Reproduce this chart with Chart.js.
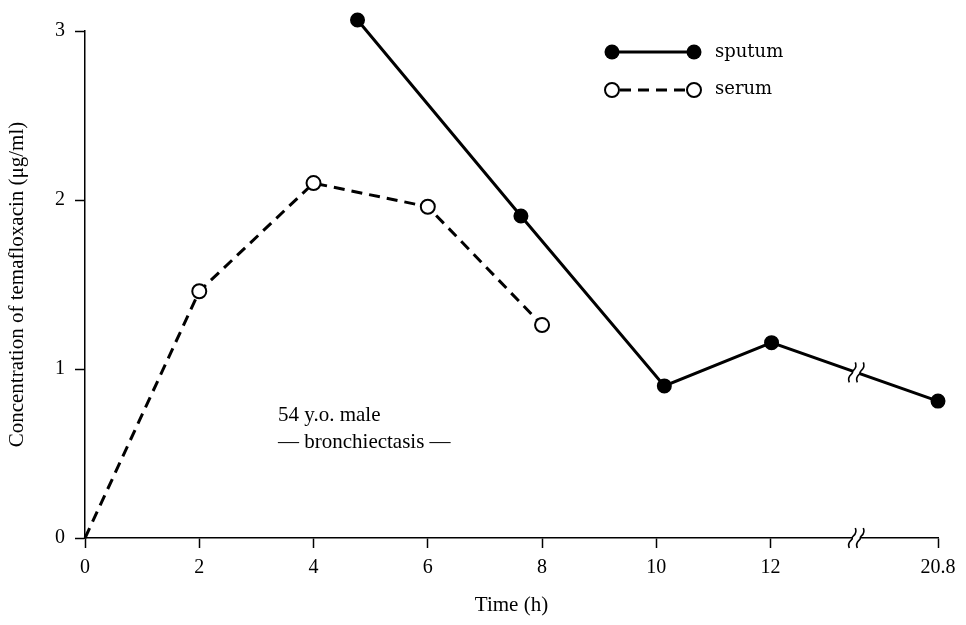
<!DOCTYPE html>
<html>
<head>
<meta charset="utf-8">
<script src="https://cdn.jsdelivr.net/npm/chart.js@4"></script>
<style>
  html, body { margin: 0; padding: 0; background: #fff; }
  canvas { display: block; }
</style>
</head>
<body>
<canvas id="grafico" width="966" height="625"></canvas>
<script>
(function () {
  "use strict";

  // valores
  var serumTime = [0, 2, 4, 6, 8];
  var serumConc = [0, 1.46, 2.10, 1.96, 1.26];
  var sputumTime = [4.77, 7.63, 10.14, 12.05, 20.8];
  var sputumConc = [3.065, 1.905, 0.90, 1.156, 0.81];
  var timeTicks = [0, 2, 4, 6, 8, 10, 12, 20.8];
  var concTicks = [0, 1, 2, 3];

  // eixo quebrado: depois de 12 h a escala é comprimida
  var QUEBRA = 12;
  var POS_FIM = 14.93;
  var T_FIM = 20.8;
  var POS_MARCA = 13.5;

  function posEixo(t) {
    return t <= QUEBRA ? t : QUEBRA + (t - QUEBRA) * (POS_FIM - QUEBRA) / (T_FIM - QUEBRA);
  }

  function pontos(xs, ys) {
    return xs.map(function (t, i) { return { x: posEixo(t), y: ys[i] }; });
  }

  var SERIF = "'Liberation Serif', 'DejaVu Serif', serif";
  var PRETO = "#000";
  var TRACO = [11, 7];

  function desenhaS(ctx, x, y, h) {
    ctx.beginPath();
    ctx.moveTo(x - 3, y + h);
    ctx.bezierCurveTo(x - 6, y + h * 0.3, x + 1, y + h * 0.2, x, y);
    ctx.bezierCurveTo(x - 1, y - h * 0.2, x + 6, y - h * 0.3, x + 3, y - h);
    ctx.stroke();
  }

  var extras = {
    id: "extras",
    afterDraw: function (chart) {
      var ctx = chart.ctx;
      var xs = chart.scales.x, ys = chart.scales.y;
      ctx.save();

      // quebra no eixo x
      var bx = xs.getPixelForValue(POS_MARCA);
      var by = ys.getPixelForValue(0);
      ctx.fillStyle = "#fff";
      ctx.fillRect(bx - 4, by - 3, 8, 6);
      ctx.strokeStyle = PRETO;
      ctx.lineWidth = 1.6;
      desenhaS(ctx, bx - 4, by, 10);
      desenhaS(ctx, bx + 4, by, 10);

      // quebra na linha do escarro
      var a = posEixo(sputumTime[3]), b = posEixo(sputumTime[4]);
      var f = (POS_MARCA - a) / (b - a);
      var yv = sputumConc[3] + (sputumConc[4] - sputumConc[3]) * f;
      var ly = ys.getPixelForValue(yv);
      ctx.fillStyle = "#fff";
      ctx.fillRect(bx - 3, ly - 5, 6, 10);
      desenhaS(ctx, bx - 4, ly, 10);
      desenhaS(ctx, bx + 4, ly, 10);

      // legenda
      var lx1 = 612, lx2 = 694, tx = 715;
      ctx.lineWidth = 3;
      ctx.strokeStyle = PRETO;
      ctx.beginPath(); ctx.moveTo(lx1, 52); ctx.lineTo(lx2, 52); ctx.stroke();
      ctx.setLineDash(TRACO);
      ctx.beginPath(); ctx.moveTo(lx1 + 8, 90); ctx.lineTo(lx2 - 8, 90); ctx.stroke();
      ctx.setLineDash([]);
      [lx1, lx2].forEach(function (x) {
        ctx.fillStyle = PRETO;
        ctx.beginPath(); ctx.arc(x, 52, 7.5, 0, Math.PI * 2); ctx.fill();
        ctx.fillStyle = "#fff";
        ctx.lineWidth = 2;
        ctx.beginPath(); ctx.arc(x, 90, 7, 0, Math.PI * 2); ctx.fill(); ctx.stroke();
      });
      ctx.fillStyle = PRETO;
      ctx.font = "18px 'DejaVu Serif', serif";
      ctx.textBaseline = "middle";
      ctx.textAlign = "left";
      ctx.fillText("sputum", tx, 52);
      ctx.fillText("serum", tx, 89);

      // anotação do paciente
      ctx.font = "21px " + SERIF;
      ctx.fillText("54 y.o. male", 278, 415);
      ctx.fillText("\u2014 bronchiectasis \u2014", 278, 442);

      ctx.restore();
    },
  };

  new Chart(document.getElementById("grafico"), {
    type: "line",
    data: {
      datasets: [
        {
          label: "sputum",
          data: pontos(sputumTime, sputumConc),
          borderColor: PRETO,
          backgroundColor: PRETO,
          borderWidth: 3,
          // raio pequeno + borda grossa: o ponto acima do topo do eixo continua visível
          pointRadius: 3,
          pointBorderWidth: 9,
          pointBorderColor: PRETO,
          pointBackgroundColor: PRETO,
          tension: 0,
          clip: false,
        },
        {
          label: "serum",
          data: pontos(serumTime, serumConc),
          borderColor: PRETO,
          borderWidth: 3,
          borderDash: TRACO,
          pointRadius: function (c) { return c.dataIndex === 0 ? 0 : 7; },
          pointBorderWidth: 2,
          pointBackgroundColor: "#fff",
          pointBorderColor: PRETO,
          tension: 0,
          clip: false,
        },
      ],
    },
    options: {
      responsive: false,
      animation: false,
      layout: { padding: { top: 31, right: 28, bottom: 0, left: 0 } },
      plugins: { legend: { display: false }, tooltip: { enabled: false } },
      scales: {
        x: {
          type: "linear",
          min: 0,
          max: POS_FIM,
          afterBuildTicks: function (s) {
            s.ticks = timeTicks.map(function (t) { return { value: posEixo(t) }; });
          },
          afterFit: function (s) { s.height = 87; },
          grid: { drawOnChartArea: false, tickLength: 10, tickColor: PRETO, tickWidth: 1.5 },
          border: { color: PRETO, width: 1.5 },
          ticks: {
            autoSkip: false,
            maxRotation: 0,
            color: PRETO,
            padding: 8,
            font: { family: SERIF, size: 20 },
            callback: function (v, i) { return String(timeTicks[i]); },
          },
          title: {
            display: true,
            text: "Time (h)",
            color: PRETO,
            font: { family: SERIF, size: 21 },
            padding: { top: 0, bottom: 7 },
          },
        },
        y: {
          min: 0,
          max: 3,
          afterBuildTicks: function (s) {
            s.ticks = concTicks.map(function (v) { return { value: v }; });
          },
          afterFit: function (s) { s.width = 85; },
          grid: { drawOnChartArea: false, tickLength: 10, tickColor: PRETO, tickWidth: 1.5 },
          border: { color: PRETO, width: 1.5 },
          ticks: {
            color: PRETO,
            padding: 10,
            font: { family: SERIF, size: 20 },
          },
          title: {
            display: true,
            text: "Concentration of temafloxacin (\u03bcg/ml)",
            color: PRETO,
            font: { family: SERIF, size: 21 },
            padding: { top: 5, bottom: 0 },
          },
        },
      },
    },
    plugins: [extras],
  });
})();
</script>
</body>
</html>
